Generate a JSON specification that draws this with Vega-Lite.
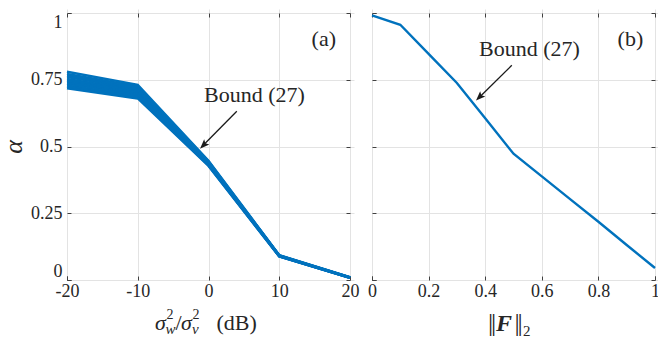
{
  "$schema": "https://vega.github.io/schema/vega-lite/v6.json",
  "padding": {"left": 0, "top": 10, "right": 0, "bottom": 0},
  "background": "white",
  "spacing": 22,
  "bounds": "flush",
  "config": {
    "view": {"stroke": "#404040", "strokeWidth": 1},
    "font": "Liberation Serif, Times New Roman, serif",
    "text": {"font": "Liberation Serif, Times New Roman, serif"},
    "axis": {
      "domain": false,
      "grid": true,
      "gridColor": "#e3e3e3",
      "gridWidth": 1,
      "tickColor": "#404040",
      "tickSize": 4,
      "offset": -4,
      "labelPadding": 5,
      "labelFont": "Liberation Serif, Times New Roman, serif",
      "labelFontSize": 18,
      "labelColor": "#262626",
      "titleFont": "Liberation Serif, Times New Roman, serif",
      "titleColor": "#262626"
    }
  },
  "hconcat": [
    {
      "width": 283,
      "height": 267,
      "data": {"values": [{"k": 1}]},
      "resolve": {"axis": {"x": "independent", "y": "independent"}},
      "layer": [
        {
          "data": {"values": [
            {"run": 0, "snr": -20, "alpha": 0.718}, {"run": 0, "snr": -10, "alpha": 0.680}, {"run": 0, "snr": 0, "alpha": 0.427}, {"run": 0, "snr": 10, "alpha": 0.088}, {"run": 0, "snr": 20, "alpha": 0.008},
            {"run": 1, "snr": -20, "alpha": 0.724}, {"run": 1, "snr": -10, "alpha": 0.685}, {"run": 1, "snr": 0, "alpha": 0.429}, {"run": 1, "snr": 10, "alpha": 0.0885}, {"run": 1, "snr": 20, "alpha": 0.008},
            {"run": 2, "snr": -20, "alpha": 0.729}, {"run": 2, "snr": -10, "alpha": 0.690}, {"run": 2, "snr": 0, "alpha": 0.431}, {"run": 2, "snr": 10, "alpha": 0.089}, {"run": 2, "snr": 20, "alpha": 0.0085},
            {"run": 3, "snr": -20, "alpha": 0.735}, {"run": 3, "snr": -10, "alpha": 0.695}, {"run": 3, "snr": 0, "alpha": 0.433}, {"run": 3, "snr": 10, "alpha": 0.0895}, {"run": 3, "snr": 20, "alpha": 0.0085},
            {"run": 4, "snr": -20, "alpha": 0.741}, {"run": 4, "snr": -10, "alpha": 0.700}, {"run": 4, "snr": 0, "alpha": 0.435}, {"run": 4, "snr": 10, "alpha": 0.090}, {"run": 4, "snr": 20, "alpha": 0.009},
            {"run": 5, "snr": -20, "alpha": 0.747}, {"run": 5, "snr": -10, "alpha": 0.705}, {"run": 5, "snr": 0, "alpha": 0.437}, {"run": 5, "snr": 10, "alpha": 0.0905}, {"run": 5, "snr": 20, "alpha": 0.009},
            {"run": 6, "snr": -20, "alpha": 0.753}, {"run": 6, "snr": -10, "alpha": 0.710}, {"run": 6, "snr": 0, "alpha": 0.439}, {"run": 6, "snr": 10, "alpha": 0.091}, {"run": 6, "snr": 20, "alpha": 0.0095},
            {"run": 7, "snr": -20, "alpha": 0.760}, {"run": 7, "snr": -10, "alpha": 0.715}, {"run": 7, "snr": 0, "alpha": 0.441}, {"run": 7, "snr": 10, "alpha": 0.0915}, {"run": 7, "snr": 20, "alpha": 0.0095},
            {"run": 8, "snr": -20, "alpha": 0.766}, {"run": 8, "snr": -10, "alpha": 0.720}, {"run": 8, "snr": 0, "alpha": 0.443}, {"run": 8, "snr": 10, "alpha": 0.092}, {"run": 8, "snr": 20, "alpha": 0.010},
            {"run": 9, "snr": -20, "alpha": 0.772}, {"run": 9, "snr": -10, "alpha": 0.725}, {"run": 9, "snr": 0, "alpha": 0.445}, {"run": 9, "snr": 10, "alpha": 0.0925}, {"run": 9, "snr": 20, "alpha": 0.010},
            {"run": 10, "snr": -20, "alpha": 0.780}, {"run": 10, "snr": -10, "alpha": 0.731}, {"run": 10, "snr": 0, "alpha": 0.447}, {"run": 10, "snr": 10, "alpha": 0.093}, {"run": 10, "snr": 20, "alpha": 0.0105}
          ]},
          "mark": {"type": "line", "color": "#0072BD", "strokeWidth": 2.4},
          "encoding": {
            "x": {"field": "snr", "type": "quantitative", "scale": {"domain": [-20, 20], "nice": false, "zero": false},
                  "axis": {"values": [-20, -10, 0, 10, 20], "labelExpr": "datum.value", "title": null, "labelFlush": false, "labelPadding": 2}},
            "y": {"field": "alpha", "type": "quantitative", "scale": {"domain": [0, 1], "nice": false},
                  "axis": {"values": [0, 0.25, 0.5, 0.75, 1], "labelExpr": "datum.value", "labelFlush": true,
                           "title": "α", "titleFontStyle": "italic", "titleFontWeight": "normal", "titleFontSize": 26, "titlePadding": 4}},
            "detail": {"field": "run", "type": "nominal"}
          }
        },
        {
          "mark": {"type": "rule", "color": "#1a1a1a", "strokeWidth": 1.3},
          "encoding": {"x": {"datum": 4.0, "axis": null}, "y": {"datum": 0.632, "axis": null}, "x2": {"datum": -0.5}, "y2": {"datum": 0.511}}
        },
        {
          "mark": {"type": "point", "shape": "M0,0L-0.38,1L0,0.8L0.38,1Z", "filled": true, "color": "#1a1a1a", "opacity": 1, "size": 361, "angle": 225},
          "encoding": {"x": {"datum": -1.2, "axis": null}, "y": {"datum": 0.492, "axis": null}}
        },
        {
          "mark": {"type": "text", "text": "Bound (27)", "fontSize": 22, "align": "center", "baseline": "alphabetic", "color": "#262626"},
          "encoding": {"x": {"datum": 6.5, "axis": null}, "y": {"datum": 0.665, "axis": null}}
        },
        {
          "mark": {"type": "text", "text": "(a)", "fontSize": 22, "align": "center", "baseline": "alphabetic", "color": "#262626"},
          "encoding": {
            "x": {"datum": 16.3, "axis": {"orient": "top", "values": [-20, -10, 0, 10, 20], "labels": false, "grid": false, "title": null}},
            "y": {"datum": 0.876, "axis": {"orient": "right", "values": [0, 0.25, 0.5, 0.75, 1], "labels": false, "grid": false, "title": null}}
          }
        },
        {
          "mark": {"type": "text", "text": "σ", "fontSize": 22, "fontStyle": "italic", "align": "left", "baseline": "alphabetic", "dx": -53.5, "dy": 50, "color": "#262626"},
          "encoding": {"x": {"datum": 0, "axis": null}, "y": {"datum": 0, "axis": null}}
        },
        {
          "mark": {"type": "text", "text": "2", "fontSize": 14, "align": "left", "baseline": "alphabetic", "dx": -42, "dy": 39, "color": "#262626"},
          "encoding": {"x": {"datum": 0, "axis": null}, "y": {"datum": 0, "axis": null}}
        },
        {
          "mark": {"type": "text", "text": "w", "fontSize": 15, "fontStyle": "italic", "align": "left", "baseline": "alphabetic", "dx": -43, "dy": 54, "color": "#262626"},
          "encoding": {"x": {"datum": 0, "axis": null}, "y": {"datum": 0, "axis": null}}
        },
        {
          "mark": {"type": "text", "text": "/", "fontSize": 22, "align": "left", "baseline": "alphabetic", "dx": -33, "dy": 50, "color": "#262626"},
          "encoding": {"x": {"datum": 0, "axis": null}, "y": {"datum": 0, "axis": null}}
        },
        {
          "mark": {"type": "text", "text": "σ", "fontSize": 22, "fontStyle": "italic", "align": "left", "baseline": "alphabetic", "dx": -27.5, "dy": 50, "color": "#262626"},
          "encoding": {"x": {"datum": 0, "axis": null}, "y": {"datum": 0, "axis": null}}
        },
        {
          "mark": {"type": "text", "text": "2", "fontSize": 14, "align": "left", "baseline": "alphabetic", "dx": -16, "dy": 39, "color": "#262626"},
          "encoding": {"x": {"datum": 0, "axis": null}, "y": {"datum": 0, "axis": null}}
        },
        {
          "mark": {"type": "text", "text": "v", "fontSize": 15, "fontStyle": "italic", "align": "left", "baseline": "alphabetic", "dx": -16.5, "dy": 54, "color": "#262626"},
          "encoding": {"x": {"datum": 0, "axis": null}, "y": {"datum": 0, "axis": null}}
        },
        {
          "mark": {"type": "text", "text": "(dB)", "fontSize": 22, "align": "left", "baseline": "alphabetic", "dx": 8, "dy": 50, "color": "#262626"},
          "encoding": {"x": {"datum": 0, "axis": null}, "y": {"datum": 0, "axis": null}}
        }
      ]
    },
    {
      "width": 283,
      "height": 267,
      "data": {"values": [{"k": 1}]},
      "resolve": {"axis": {"x": "independent", "y": "independent"}},
      "layer": [
        {
          "data": {"values": [
            {"f": 0.0, "alpha": 0.991}, {"f": 0.1, "alpha": 0.956}, {"f": 0.2, "alpha": 0.847}, {"f": 0.3, "alpha": 0.738},
            {"f": 0.4, "alpha": 0.606}, {"f": 0.5, "alpha": 0.473}, {"f": 0.6, "alpha": 0.388}, {"f": 0.7, "alpha": 0.303},
            {"f": 0.8, "alpha": 0.218}, {"f": 0.9, "alpha": 0.131}, {"f": 1.0, "alpha": 0.045}
          ]},
          "mark": {"type": "line", "color": "#0072BD", "strokeWidth": 2.4},
          "encoding": {
            "x": {"field": "f", "type": "quantitative", "scale": {"domain": [0, 1], "nice": false},
                  "axis": {"values": [0, 0.2, 0.4, 0.6, 0.8, 1], "labelExpr": "datum.value", "title": null, "labelFlush": false, "labelPadding": 2}},
            "y": {"field": "alpha", "type": "quantitative", "scale": {"domain": [0, 1], "nice": false},
                  "axis": {"values": [0, 0.25, 0.5, 0.75, 1], "labels": false, "title": null}}
          }
        },
        {
          "mark": {"type": "rule", "color": "#1a1a1a", "strokeWidth": 1.3},
          "encoding": {"x": {"datum": 0.494, "axis": null}, "y": {"datum": 0.804, "axis": null}, "x2": {"datum": 0.385}, "y2": {"datum": 0.69}}
        },
        {
          "mark": {"type": "point", "shape": "M0,0L-0.38,1L0,0.8L0.38,1Z", "filled": true, "color": "#1a1a1a", "opacity": 1, "size": 361, "angle": 225},
          "encoding": {"x": {"datum": 0.3675, "axis": null}, "y": {"datum": 0.672, "axis": null}}
        },
        {
          "mark": {"type": "text", "text": "Bound (27)", "fontSize": 22, "align": "center", "baseline": "alphabetic", "color": "#262626"},
          "encoding": {"x": {"datum": 0.5565, "axis": null}, "y": {"datum": 0.838, "axis": null}}
        },
        {
          "mark": {"type": "text", "text": "(b)", "fontSize": 22, "align": "center", "baseline": "alphabetic", "color": "#262626"},
          "encoding": {
            "x": {"datum": 0.913, "axis": {"orient": "top", "values": [0, 0.2, 0.4, 0.6, 0.8, 1], "labels": false, "grid": false, "title": null}},
            "y": {"datum": 0.876, "axis": {"orient": "right", "values": [0, 0.25, 0.5, 0.75, 1], "labels": false, "grid": false, "title": null}}
          }
        },
        {
          "mark": {"type": "text", "text": "|", "fontSize": 26, "align": "center", "baseline": "alphabetic", "dx": -23, "dy": 51, "color": "#262626"},
          "encoding": {"x": {"datum": 0.5, "axis": null}, "y": {"datum": 0, "axis": null}}
        },
        {
          "mark": {"type": "text", "text": "|", "fontSize": 26, "align": "center", "baseline": "alphabetic", "dx": -20, "dy": 51, "color": "#262626"},
          "encoding": {"x": {"datum": 0.5, "axis": null}, "y": {"datum": 0, "axis": null}}
        },
        {
          "mark": {"type": "text", "text": "F", "fontSize": 24, "fontStyle": "italic", "fontWeight": "bold", "align": "left", "baseline": "alphabetic", "dx": -17.5, "dy": 51, "color": "#262626"},
          "encoding": {"x": {"datum": 0.5, "axis": null}, "y": {"datum": 0, "axis": null}}
        },
        {
          "mark": {"type": "text", "text": "|", "fontSize": 26, "align": "center", "baseline": "alphabetic", "dx": 3.5, "dy": 51, "color": "#262626"},
          "encoding": {"x": {"datum": 0.5, "axis": null}, "y": {"datum": 0, "axis": null}}
        },
        {
          "mark": {"type": "text", "text": "|", "fontSize": 26, "align": "center", "baseline": "alphabetic", "dx": 6.5, "dy": 51, "color": "#262626"},
          "encoding": {"x": {"datum": 0.5, "axis": null}, "y": {"datum": 0, "axis": null}}
        },
        {
          "mark": {"type": "text", "text": "2", "fontSize": 15, "align": "left", "baseline": "alphabetic", "dx": 9.5, "dy": 56, "color": "#262626"},
          "encoding": {"x": {"datum": 0.5, "axis": null}, "y": {"datum": 0, "axis": null}}
        }
      ]
    }
  ]
}
